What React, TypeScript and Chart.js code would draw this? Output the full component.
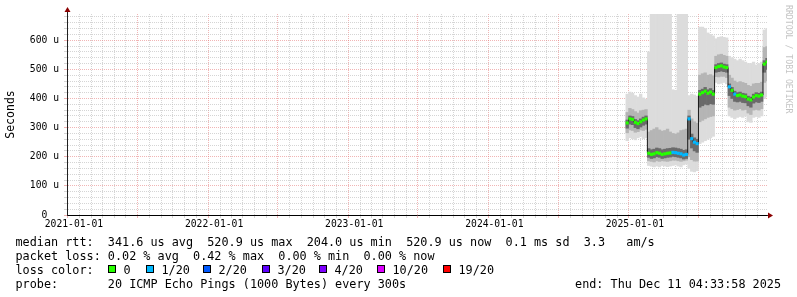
import React, { useEffect, useRef } from 'react';
import { Chart, registerables } from 'chart.js';

Chart.register(...registerables);

// ---------------- data ----------------
const axisStart = '2020-12-14';
const axisEnd = '2025-12-11';
const sampleStart = '2024-12-12';
const sampleStepDays = 7;

const yearLabels = ['2021-01-01', '2022-01-01', '2023-01-01', '2024-01-01', '2025-01-01'];
const yTickValues = [0, 100, 200, 300, 400, 500, 600];
const yTickLabels = ['0  ', '100 u', '200 u', '300 u', '400 u', '500 u', '600 u'];

// median rtt (microseconds), one value per weekly sample
const medianRtt = [
  316, 330, 328, 318, 314, 320, 326, 330,
  212, 208, 210, 214, 212, 208, 210, 212, 213, 215, 214, 212, 210, 206, 208,
  330, 262, 250, 245,
  415, 420, 425, 418, 422, 415,
  506, 510, 512, 508, 506,
  440, 428, 415, 410, 412, 408, 406, 398, 395, 405, 410, 408, 412,
  518, 525,
];
// index into lossColors
const lossIndex = [
  0, 0, 0, 0, 0, 0, 0, 0,
  0, 0, 0, 0, 0, 0, 0, 0, 0, 1, 1, 1, 1, 1, 1,
  1, 1, 1, 1,
  0, 0, 0, 0, 0, 0,
  0, 0, 0, 0, 0,
  1, 0, 1, 0, 0, 0, 0, 0, 0, 0, 0, 0, 0,
  0, 0,
];
// smoke: outer band (fastest / slowest ping)
const smokeMax = [
  415, 422, 418, 410, 405, 415, 402, 398,
  560, 900, 900, 900, 900, 900, 900, 900, 900, 430, 428, 900, 900, 900, 900,
  410, 415, 412, 408,
  645, 645, 640, 625, 620, 615,
  605, 610, 612, 610, 608,
  545, 540, 535, 530, 535, 530, 525, 520, 520, 525, 515, 520, 525,
  635, 640,
];
const smokeMin = [
  255, 265, 262, 258, 265, 270, 262, 265,
  170, 168, 165, 168, 165, 170, 168, 166, 168, 170, 172, 168, 165, 172, 175,
  160, 150, 148, 152,
  245, 250, 255, 260, 265, 270,
  455, 450, 452, 455, 450,
  340, 335, 330, 335, 338, 335, 340, 320, 318, 335, 338, 335, 340,
  400, 405,
];
// smoke: middle band
const smokeHigh = [
  352, 366, 362, 355, 350, 358, 360, 362,
  285, 290, 295, 300, 292, 288, 290, 295, 285, 280, 278, 282, 290, 292, 295,
  360, 330, 320, 315,
  480, 485, 488, 480, 482, 478,
  545, 550, 552, 548, 545,
  480, 470, 460, 455, 458, 455, 452, 445, 442, 450, 452, 452, 456,
  575, 578,
];
const smokeLow = [
  282, 292, 290, 284, 286, 292, 290, 294,
  186, 184, 182, 186, 184, 186, 185, 184, 186, 188, 188, 186, 184, 186, 188,
  200, 190, 185, 185,
  320, 325, 330, 335, 338, 340,
  475, 474, 476, 476, 472,
  370, 365, 360, 362, 365, 360, 362, 350, 345, 360, 362, 360, 365,
  455, 460,
];
// smoke: core band
const coreHigh = [
  326, 340, 338, 328, 324, 330, 336, 340,
  228, 224, 226, 230, 228, 224, 226, 228, 229, 231, 230, 228, 226, 222, 224,
  340, 278, 265, 260,
  428, 432, 438, 430, 434, 428,
  516, 520, 522, 518, 516,
  450, 438, 425, 420, 422, 418, 416, 408, 405, 415, 420, 418, 422,
  530, 538,
];
const coreLow = [
  298, 312, 310, 300, 296, 302, 308, 312,
  198, 194, 196, 200, 198, 194, 196, 198, 199, 201, 200, 198, 196, 192, 194,
  260, 230, 220, 215,
  370, 375, 380, 378, 382, 380,
  490, 492, 494, 492, 490,
  410, 400, 390, 388, 390, 386, 385, 375, 370, 384, 388, 386, 390,
  490, 500,
];

const rttStats = ['341.6 us avg', '520.9 us max', '204.0 us min', '520.9 us now', '0.1 ms sd', '3.3   am/s'];
const lossStats = ['0.02 % avg', '0.42 % max', '0.00 % min', '0.00 % now'];
const lossLabels = ['0', '1/20', '2/20', '3/20', '4/20', '10/20', '19/20'];
const lossColors = ['#26ff00', '#00b8ff', '#0059ff', '#5e00ff', '#7e00ff', '#dd00ff', '#ff0000'];
const probeText = '20 ICMP Echo Pings (1000 Bytes) every 300s';
const endText = 'end: Thu Dec 11 04:33:58 2025';
const watermark = 'RRDTOOL / TOBI OETIKER';

// ---------------- helpers ----------------
const EPOCH = Date.UTC(2021, 0, 1);
const DAY = 86400000;
const dayOf = (iso: string) => Math.round((Date.parse(iso + 'T00:00:00Z') - EPOCH) / DAY);
const isoOf = (d: number) => new Date(EPOCH + d * DAY).toISOString().slice(0, 10);
const xMin = dayOf(axisStart);
const xMax = dayOf(axisEnd);
const x0 = dayOf(sampleStart);
const xs = medianRtt.map((_, i) => x0 + i * sampleStepDays);

const monthTicks: number[] = [];
for (let y = 2020; y <= 2025; y++) {
  for (let m = 0; m < 12; m++) {
    const v = (Date.UTC(y, m, 1) - EPOCH) / DAY;
    if (v >= xMin && v <= xMax) monthTicks.push(v);
  }
}
const yTicks: number[] = [];
for (let v = 0; v <= 680; v += 20) yTicks.push(v);

const band = (lo: number[], hi: number[]) => xs.map((x, i) => ({ x, y: [lo[i], hi[i]] }));
const pts = (arr: number[]) => xs.map((x, i) => ({ x, y: arr[i] }));

const GRID = 'rgba(185,185,185,0.6)';
const MGRID = 'rgba(230,120,120,0.55)';
const MONO = '"DejaVu Sans Mono", monospace';

const xGridColor = (c: any) => {
  if (!c || !c.tick) return GRID;
  return new Date(EPOCH + c.tick.value * DAY).getUTCMonth() % 6 === 0 ? MGRID : GRID;
};
const yGridColor = (c: any) => {
  if (!c || !c.tick) return GRID;
  return c.tick.value % 100 === 0 ? MGRID : GRID;
};

const decor = {
  id: 'rrdDecor',
  afterDraw(chart: any) {
    const { ctx, chartArea: a } = chart;
    ctx.save();
    // axis extensions + arrows
    const ax = Math.round(a.left) + 0.5;
    const ay = Math.round(a.bottom) + 0.5;
    ctx.strokeStyle = '#202020';
    ctx.lineWidth = 1;
    ctx.beginPath();
    ctx.moveTo(ax, a.top);
    ctx.lineTo(ax, a.top - 3);
    ctx.moveTo(a.right, ay);
    ctx.lineTo(a.right + 2, ay);
    ctx.stroke();
    ctx.fillStyle = '#8b0000';
    ctx.beginPath();
    ctx.moveTo(ax - 3, a.top - 2);
    ctx.lineTo(ax + 3, a.top - 2);
    ctx.lineTo(ax, a.top - 7);
    ctx.closePath();
    ctx.fill();
    ctx.beginPath();
    ctx.moveTo(a.right + 1, ay - 3);
    ctx.lineTo(a.right + 1, ay + 3);
    ctx.lineTo(a.right + 6, ay);
    ctx.closePath();
    ctx.fill();

    // watermark
    ctx.save();
    ctx.translate(788, 5);
    ctx.rotate(Math.PI / 2);
    ctx.font = `8.2px ${MONO}`;
    ctx.fillStyle = '#c4c4c4';
    ctx.textBaseline = 'middle';
    ctx.textAlign = 'left';
    ctx.fillText(watermark, 0, 0);
    ctx.restore();

    // footer legend
    ctx.font = `11.8px ${MONO}`;
    ctx.fillStyle = '#000';
    ctx.textBaseline = 'alphabetic';
    ctx.textAlign = 'left';
    const lx = 15.5;
    ctx.fillText('median rtt:  ' + rttStats.join('  '), lx, 246);
    ctx.fillText('packet loss: ' + lossStats.join('  '), lx, 260);
    ctx.fillText('loss color:', lx, 274);
    const boxX = [108, 146, 203, 262, 319, 377, 443];
    lossLabels.forEach((lab, i) => {
      ctx.fillStyle = lossColors[i];
      ctx.fillRect(boxX[i], 265, 8, 8);
      ctx.strokeStyle = '#000';
      ctx.strokeRect(boxX[i] + 0.5, 265.5, 7, 7);
      ctx.fillStyle = '#000';
      ctx.fillText(lab, boxX[i] + 15.5, 274);
    });
    ctx.fillText('probe:       ' + probeText, lx, 288);
    ctx.textAlign = 'right';
    ctx.fillText(endText, 781, 288);
    ctx.restore();
  },
};

export default function App() {
  const ref = useRef<HTMLCanvasElement | null>(null);
  useEffect(() => {
    if (!ref.current) return;
    const barCommon = {
      type: 'bar' as const,
      grouped: false,
      barPercentage: 1,
      categoryPercentage: 1,
      borderWidth: 0,
    };
    const chart = new Chart(ref.current, {
      type: 'bar',
      data: {
        datasets: [
          { ...barCommon, data: band(smokeMin, smokeMax), backgroundColor: '#dcdcdc', order: 5 } as any,
          { ...barCommon, data: band(smokeLow, smokeHigh), backgroundColor: '#b5b5b5', order: 4 } as any,
          { ...barCommon, data: band(coreLow, coreHigh), backgroundColor: '#6a6a6a', order: 3 } as any,
          {
            type: 'line', data: pts(medianRtt), borderColor: '#1a1a1a', borderWidth: 1,
            pointRadius: 0, stepped: 'middle', order: 2,
          } as any,
          {
            type: 'line', data: pts(medianRtt), showLine: false, pointStyle: 'rect',
            pointRadius: 2.2, pointBorderWidth: 0,
            pointBackgroundColor: lossIndex.map((i) => lossColors[i]), order: 1,
          } as any,
        ],
      },
      options: {
        responsive: false,
        animation: false,
        events: [],
        layout: { padding: { left: 0, right: 30, top: 14, bottom: 62 } },
        plugins: { legend: { display: false }, tooltip: { enabled: false }, title: { display: false } },
        scales: {
          x: {
            type: 'linear',
            min: xMin,
            max: xMax,
            offset: false,
            afterFit: (s: any) => { s.height = 20; },
            afterBuildTicks: (s: any) => { s.ticks = monthTicks.map((v) => ({ value: v })); },
            grid: {
              color: xGridColor,
              tickColor: xGridColor,
              lineWidth: 1,
              drawTicks: true,
              tickLength: 3,
            },
            border: { display: true, color: '#000', width: 1, dash: [1, 1] },
            ticks: {
              autoSkip: false, maxRotation: 0, minRotation: 0, padding: 1,
              color: '#000', font: { family: 'DejaVu Sans Mono', size: 9.7 },
              callback: (v: any) => { const s = isoOf(Number(v)); return yearLabels.includes(s) ? s : ''; },
            },
          },
          y: {
            type: 'linear',
            min: 0,
            max: 690,
            afterFit: (s: any) => { s.width = 67; },
            afterBuildTicks: (s: any) => { s.ticks = yTicks.map((v) => ({ value: v })); },
            grid: {
              color: yGridColor,
              tickColor: yGridColor,
              lineWidth: 1,
              drawTicks: true,
              tickLength: 3,
            },
            border: { display: true, color: '#202020', width: 1, dash: [1, 1] },
            title: {
              display: true, text: 'Seconds', color: '#000',
              font: { family: 'DejaVu Sans Mono', size: 11.5 }, padding: { top: 4, bottom: 0 },
            },
            ticks: {
              autoSkip: false,
              padding: 5, color: '#000', font: { family: 'DejaVu Sans Mono', size: 9.7 },
              callback: (v: any) => { const i = yTickValues.indexOf(Number(v)); return i >= 0 ? yTickLabels[i] : ''; },
            },
          },
        },
      },
      plugins: [decor],
    } as any);
    return () => chart.destroy();
  }, []);
  return (
    <div style={{ position: 'absolute', left: 0, top: 0, width: 797, height: 297, background: '#fff' }}>
      <canvas ref={ref} width={797} height={297} style={{ display: 'block' }} />
    </div>
  );
}
